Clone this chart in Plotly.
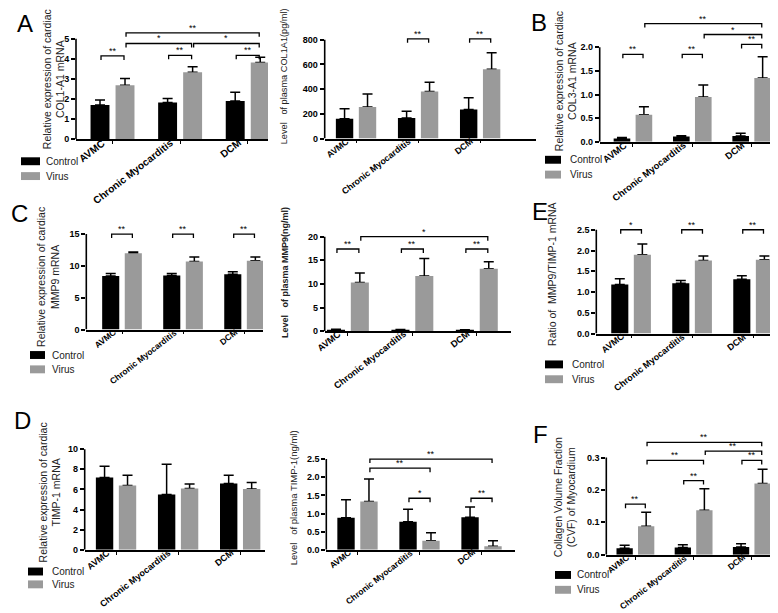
import plotly.graph_objects as go

W, H = 778, 613

categories = ["AVMC", "Chronic Myocarditis", "DCM"]
legend_labels = ["Control", "Virus"]

# ---------------- data (mean and upper error bar) ----------------
# A, left: cardiac COL1-A1 mRNA
col1a1_mrna_control = [1.70, 1.83, 1.90]
col1a1_mrna_control_err = [0.25, 0.20, 0.43]
col1a1_mrna_virus = [2.68, 3.33, 3.82]
col1a1_mrna_virus_err = [0.34, 0.27, 0.26]
# A, right: plasma COL1A1 (pg/ml)
col1a1_plasma_control = [160, 165, 235]
col1a1_plasma_control_err = [80, 55, 95]
col1a1_plasma_virus = [255, 380, 560]
col1a1_plasma_virus_err = [105, 75, 135]
# B: cardiac COL3-A1 mRNA
col3a1_mrna_control = [0.07, 0.11, 0.12]
col3a1_mrna_control_err = [0.02, 0.02, 0.06]
col3a1_mrna_virus = [0.57, 0.95, 1.35]
col3a1_mrna_virus_err = [0.17, 0.25, 0.45]
# C, left: cardiac MMP9 mRNA
mmp9_mrna_control = [8.4, 8.5, 8.7]
mmp9_mrna_control_err = [0.4, 0.3, 0.4]
mmp9_mrna_virus = [12.0, 10.7, 10.8]
mmp9_mrna_virus_err = [0.2, 0.7, 0.6]
# C, right: plasma MMP9 (ng/ml)
mmp9_plasma_control = [0.35, 0.30, 0.30]
mmp9_plasma_control_err = [0.10, 0.10, 0.05]
mmp9_plasma_virus = [10.3, 11.7, 13.2]
mmp9_plasma_virus_err = [2.0, 3.7, 1.5]
# E: MMP9/TIMP-1 mRNA ratio
ratio_control = [1.18, 1.21, 1.31]
ratio_control_err = [0.14, 0.07, 0.08]
ratio_virus = [1.90, 1.76, 1.78]
ratio_virus_err = [0.26, 0.11, 0.09]
# D, left: cardiac TIMP-1 mRNA
timp1_mrna_control = [7.2, 5.5, 6.6]
timp1_mrna_control_err = [1.1, 3.0, 0.8]
timp1_mrna_virus = [6.4, 6.1, 6.05]
timp1_mrna_virus_err = [1.0, 0.45, 0.65]
# D, right: plasma TIMP-1 (ng/ml)
timp1_plasma_control = [0.88, 0.77, 0.90]
timp1_plasma_control_err = [0.50, 0.35, 0.28]
timp1_plasma_virus = [1.33, 0.25, 0.10]
timp1_plasma_virus_err = [0.62, 0.22, 0.15]
# F: collagen volume fraction
cvf_control = [0.020, 0.022, 0.024]
cvf_control_err = [0.009, 0.009, 0.010]
cvf_virus = [0.088, 0.137, 0.220]
cvf_virus_err = [0.043, 0.067, 0.044]

# y tick values
ticks_col1a1_mrna = [0, 1, 2, 3, 4, 5]
ticks_col1a1_plasma = [0, 200, 400, 600, 800]
ticks_col3a1_mrna = [0, 0.5, 1.0, 1.5, 2.0]
ticks_mmp9_mrna = [0, 5, 10, 15]
ticks_mmp9_plasma = [0, 5, 10, 15, 20]
ticks_ratio = [0, 0.5, 1.0, 1.5, 2.0, 2.5]
ticks_timp1_mrna = [0, 2, 4, 6, 8, 10]
ticks_timp1_plasma = [0, 0.5, 1.0, 1.5, 2.0, 2.5]
ticks_cvf = [0, 0.1, 0.2, 0.3]

# significance brackets: (group1, series1, group2, series2, level, label)
sig_col1a1_mrna = [(0, 0, 0, 1, 4.14, "**"), (1, 0, 1, 1, 4.17, "**"), (2, 0, 2, 1, 4.17, "**"),
                   (0, 1, 1, 1, 4.76, "*"), (1, 1, 2, 1, 4.76, "*"), (0, 1, 2, 1, 5.29, "**")]
sig_col1a1_plasma = [(1, 0, 1, 1, 806, "**"), (2, 0, 2, 1, 806, "**")]
sig_col3a1_mrna = [(0, 0, 0, 1, 1.85, "**"), (1, 0, 1, 1, 1.85, "**"), (2, 0, 2, 1, 2.06, "**"),
                   (1, 1, 2, 1, 2.27, "*"), (0, 1, 2, 1, 2.50, "**")]
sig_mmp9_mrna = [(0, 0, 0, 1, 15.0, "**"), (1, 0, 1, 1, 15.0, "**"), (2, 0, 2, 1, 15.0, "**")]
sig_mmp9_plasma = [(0, 0, 0, 1, 17.4, "**"), (1, 0, 1, 1, 17.4, "**"), (2, 0, 2, 1, 17.4, "**"),
                   (0, 1, 2, 1, 20.0, "*")]
sig_ratio = [(0, 0, 0, 1, 2.5, "*"), (1, 0, 1, 1, 2.5, "**"), (2, 0, 2, 1, 2.5, "**")]
sig_timp1_mrna = []
sig_timp1_plasma = [(1, 0, 1, 1, 1.42, "*"), (2, 0, 2, 1, 1.42, "**"),
                    (0, 1, 1, 1, 2.25, "**"), (0, 1, 2, 1, 2.50, "**")]
sig_cvf = [(0, 0, 0, 1, 0.156, "**"), (1, 0, 1, 1, 0.229, "**"), (2, 0, 2, 1, 0.291, "**"),
           (0, 1, 1, 1, 0.291, "**"), (1, 1, 2, 1, 0.320, "**"), (0, 1, 2, 1, 0.347, "**")]

NB = "\u00a0"
panels = [
    dict(ctrl=col1a1_mrna_control, ctrl_err=col1a1_mrna_control_err, vir=col1a1_mrna_virus,
         vir_err=col1a1_mrna_virus_err, ticks=ticks_col1a1_mrna, fmt="d", sig=sig_col1a1_mrna,
         title="Relative expression of cardiac<br>COL1-A1 mRNA", bold=False, tsize=10.5, lsize=10.2,
         left=68, right=260, bottom=130.7, top_px=29, xr=(-0.54, 2.30), ymax=5.6, txy=(46, 70)),
    dict(ctrl=col1a1_plasma_control, ctrl_err=col1a1_plasma_control_err, vir=col1a1_plasma_virus,
         vir_err=col1a1_plasma_virus_err, ticks=ticks_col1a1_plasma, fmt="d", sig=sig_col1a1_plasma,
         title="Level" + NB * 3 + "of plasma COL1A1(pg/ml)", bold=False, tsize=9.2, lsize=8.8,
         left=316.7, right=528, bottom=130, top_px=30, xr=(-0.505, 2.90), ymax=880, txy=(276, 67)),
    dict(ctrl=col3a1_mrna_control, ctrl_err=col3a1_mrna_control_err, vir=col3a1_mrna_virus,
         vir_err=col3a1_mrna_virus_err, ticks=ticks_col3a1_mrna, fmt=".1f", sig=sig_col3a1_mrna,
         title="Relative expression of cardiac<br>COL3-A1 mRNA", bold=False, tsize=10.5, lsize=9.4,
         left=591.7, right=768, bottom=133.3, top_px=37.7, xr=(-0.56, 2.41), ymax=2.7, txy=(558, 72)),
    dict(ctrl=mmp9_mrna_control, ctrl_err=mmp9_mrna_control_err, vir=mmp9_mrna_virus,
         vir_err=mmp9_mrna_virus_err, ticks=ticks_mmp9_mrna, fmt="d", sig=sig_mmp9_mrna,
         title="Relative expression of cardiac<br>MMP9 mRNA", bold=False, tsize=10.5, lsize=8.5,
         left=78.3, right=255, bottom=323.3, top_px=226.7, xr=(-0.585, 2.31), ymax=16.6, txy=(40, 270)),
    dict(ctrl=mmp9_plasma_control, ctrl_err=mmp9_plasma_control_err, vir=mmp9_plasma_virus,
         vir_err=mmp9_plasma_virus_err, ticks=ticks_mmp9_plasma, fmt="d", sig=sig_mmp9_plasma,
         title="Level" + NB * 3 + "of plasma MMP9(ng/ml)", bold=True, tsize=9, lsize=9.2,
         left=316.7, right=503, bottom=325, top_px=229.3, xr=(-0.36, 2.53), ymax=21.8, txy=(277, 266)),
    dict(ctrl=ratio_control, ctrl_err=ratio_control_err, vir=ratio_virus,
         vir_err=ratio_virus_err, ticks=ticks_ratio, fmt=".1f", sig=sig_ratio,
         title="Ratio of" + NB * 2 + "MMP9/TIMP-1 mRNA", bold=False, tsize=10.5, lsize=9,
         left=588.3, right=775, bottom=327.3, top_px=222.3, xr=(-0.57, 2.49), ymax=2.72, txy=(544, 267)),
    dict(ctrl=timp1_mrna_control, ctrl_err=timp1_mrna_control_err, vir=timp1_mrna_virus,
         vir_err=timp1_mrna_virus_err, ticks=ticks_timp1_mrna, fmt="d", sig=sig_timp1_mrna,
         title="Relative expression of cardiac<br>TIMP-1 mRNA", bold=False, tsize=10.5, lsize=9,
         left=76.7, right=257, bottom=546, top_px=444.3, xr=(-0.505, 2.40), ymax=10.3, txy=(42, 488)),
    dict(ctrl=timp1_plasma_control, ctrl_err=timp1_plasma_control_err, vir=timp1_plasma_virus,
         vir_err=timp1_plasma_virus_err, ticks=ticks_timp1_plasma, fmt=".1f", sig=sig_timp1_plasma,
         title="Level" + NB * 3 + "of plasma TIMP-1(ng/ml)", bold=False, tsize=9.5, lsize=8.5,
         left=318.3, right=506.7, bottom=546, top_px=454.3, xr=(-0.503, 2.535), ymax=2.72, txy=(285, 494)),
    dict(ctrl=cvf_control, ctrl_err=cvf_control_err, vir=cvf_virus,
         vir_err=cvf_virus_err, ticks=ticks_cvf, fmt=".1f", sig=sig_cvf,
         title="Collagen Volume Fraction<br>(CVF) of Myocardium", bold=False, tsize=10.5, lsize=8.5,
         left=598.3, right=777, bottom=551, top_px=452.7, xr=(-0.5, 2.57), ymax=0.375, txy=(557, 493)),
]

# panel letters (text, x_px, y_px)
letters = [("A", 16.5, 14), ("B", 531, 13), ("C", 11.5, 206), ("E", 532, 204), ("D", 14, 415.5), ("F", 532, 429)]
# legends (box_x0, box_w, y_control, y_virus, text_x)
legends = [(13, 19, 153, 168, 36), (537, 16, 151.5, 166.5, 560), (22, 15, 349, 363.5, 41.5),
           (537, 18, 358.5, 373.5, 561.5), (20, 15, 568, 581, 41.5), (547, 16, 571.5, 586.5, 566.5)]

CTRL_COLOR = "#000000"
VIR_COLOR = "#9a9a9a"
BAR_W = 0.28
SEP = 0.185
LABEL_ANGLE = -38
TITLE_FONT = "Liberation Sans Narrow, Arial Narrow, Liberation Sans, Arial, sans-serif"
FONT = "Liberation Sans, Arial, Helvetica, sans-serif"

fig = go.Figure()
shapes, annots = [], []
layout = dict(width=W, height=H, margin=dict(l=0, r=0, t=0, b=0), showlegend=False,
              paper_bgcolor="white", plot_bgcolor="white", barmode="overlay",
              font=dict(family=FONT, color="black"))

for i, p in enumerate(panels, start=1):
    xid = "x" if i == 1 else f"x{i}"
    yid = "y" if i == 1 else f"y{i}"
    ppu = (p["bottom"] - p["top_px"]) / p["ticks"][-1]
    top_px = p["bottom"] - p["ymax"] * ppu
    xdom = [p["left"] / W, p["right"] / W]
    ydom = [1 - p["bottom"] / H, 1 - top_px / H]
    xs = list(range(len(categories)))

    err_style = dict(type="data", symmetric=False, color="black", thickness=1.5, width=5)
    fig.add_trace(go.Bar(x=xs, y=p["ctrl"], width=BAR_W, offset=-SEP - BAR_W / 2,
                         marker=dict(color=CTRL_COLOR, line=dict(width=0)),
                         error_y=dict(array=p["ctrl_err"], arrayminus=[0] * 3, **err_style),
                         xaxis=xid, yaxis=yid, name=legend_labels[0]))
    # error bars for virus bars, drawn underneath the grey bars
    fig.add_trace(go.Bar(x=xs, y=p["vir"], width=BAR_W, offset=SEP - BAR_W / 2,
                         marker=dict(color="rgba(0,0,0,0)", line=dict(width=0)),
                         error_y=dict(array=p["vir_err"], arrayminus=[0] * 3, **err_style),
                         xaxis=xid, yaxis=yid, hoverinfo="skip"))
    fig.add_trace(go.Bar(x=xs, y=p["vir"], width=BAR_W, offset=SEP - BAR_W / 2,
                         marker=dict(color=VIR_COLOR, line=dict(width=0)),
                         xaxis=xid, yaxis=yid, name=legend_labels[1]))

    # significance brackets
    if p["sig"]:
        off = [-SEP, SEP]
        drop = 4.0 / ppu
        bx, by = [], []
        for g1, s1, g2, s2, lvl, lab in p["sig"]:
            xa = g1 + off[s1] + 0.015
            xb = g2 + off[s2] - 0.015
            bx += [xa, xa, xb, xb, None]
            by += [lvl - drop, lvl, lvl, lvl - drop, None]
            annots.append(dict(x=(xa + xb) / 2, y=lvl, xref=xid, yref=yid, text=lab,
                               showarrow=False, xanchor="center", yanchor="bottom", yshift=-2,
                               font=dict(size=9, family=FONT, color="black")))
        fig.add_trace(go.Scatter(x=bx, y=by, mode="lines", line=dict(color="black", width=1.3),
                                 xaxis=xid, yaxis=yid, hoverinfo="skip"))

    # category labels (angled) under each group
    for j, cat in enumerate(categories):
        annots.append(dict(x=j, y=0, xref=xid, yref=yid, text=cat, textangle=LABEL_ANGLE,
                           showarrow=False, xanchor="right", yanchor="top", xshift=-2, yshift=5,
                           font=dict(size=p["lsize"], family=FONT, color="black", weight="bold")))

    layout["xaxis" if i == 1 else f"xaxis{i}"] = dict(
        domain=xdom, anchor=yid, range=list(p["xr"]), tickvals=xs, showticklabels=False,
        ticks="outside", ticklen=3, tickwidth=1.3, tickcolor="black",
        showline=True, linecolor="black", linewidth=1.6,
        showgrid=False, zeroline=False, fixedrange=True)
    layout["yaxis" if i == 1 else f"yaxis{i}"] = dict(
        domain=ydom, anchor=xid, range=[0, p["ymax"]], tickvals=p["ticks"], tickformat=p["fmt"],
        ticks="outside", ticklen=4, tickwidth=1.5, tickcolor="black", showline=False,
        showgrid=False, zeroline=False, fixedrange=True,
        tickfont=dict(size=9, family=FONT, color="black", weight="bold"))
    # y axis line only up to the top tick
    shapes.append(dict(type="line", xref=f"{xid} domain", yref=yid, x0=0, x1=0,
                       y0=0, y1=p["ticks"][-1], line=dict(color="black", width=1.6)))
    # axis title
    tx, ty = p["txy"]
    annots.append(dict(x=tx / W, y=1 - ty / H, xref="paper", yref="paper", text=p["title"],
                       textangle=-90, showarrow=False, xanchor="center", yanchor="middle",
                       font=dict(size=p["tsize"], family=TITLE_FONT, color="#222",
                                 weight="bold" if p["bold"] else "normal")))

for txt, x, y in letters:
    annots.append(dict(x=x / W, y=1 - y / H, xref="paper", yref="paper", text=txt,
                       showarrow=False, xanchor="center", yanchor="middle",
                       font=dict(size=24, family=FONT, color="black")))

for bx0, bw, yc, yv, tx in legends:
    for yy, col, lab in ((yc, CTRL_COLOR, legend_labels[0]), (yv, VIR_COLOR, legend_labels[1])):
        shapes.append(dict(type="rect", xref="paper", yref="paper", x0=bx0 / W, x1=(bx0 + bw) / W,
                           y0=1 - (yy + 4) / H, y1=1 - (yy - 4) / H, fillcolor=col,
                           line=dict(width=0)))
        annots.append(dict(x=tx / W, y=1 - yy / H, xref="paper", yref="paper", text=lab,
                           showarrow=False, xanchor="left", yanchor="middle",
                           font=dict(size=10, family=FONT, color="#222")))

layout["shapes"] = shapes
layout["annotations"] = annots
fig.update_layout(**layout)
fig.write_html("out.html")
